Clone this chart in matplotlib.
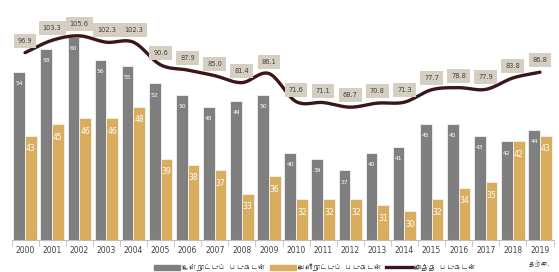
import numpy as np
import matplotlib
matplotlib.use("Agg")
import matplotlib.pyplot as plt
from matplotlib import font_manager
from matplotlib.ft2font import FT2Font
from matplotlib.lines import Line2D
from matplotlib.patches import Patch

years = ["2000", "2001", "2002", "2003", "2004", "2005", "2006", "2007", "2008", "2009",
         "2010", "2011", "2012", "2013", "2014", "2015", "2016", "2017", "2018", "2019"]
domestic = [54, 58, 60, 56, 55, 52, 50, 48, 49, 50, 40, 39, 37, 40, 41, 45, 45, 43, 42, 44]
foreign = [43, 45, 46, 46, 48, 39, 38, 37, 33, 36, 32, 32, 32, 31, 30, 32, 34, 35, 42, 43]
total = [96.9, 103.3, 105.6, 102.3, 102.3, 90.6, 87.9, 85.0, 81.4, 86.1,
         71.6, 71.1, 68.7, 70.8, 71.3, 77.7, 78.8, 77.9, 83.8, 86.8]
legend_labels = ["உள்நாட்டுப் படுகடன்", "வெளிநாட்டுப் படுகடன்", "மொத்த படுகடன்"]
note = "தற்கா."

# find a font with Tamil glyphs
tamil_font = None
for f in font_manager.fontManager.ttflist:
    try:
        ft = FT2Font(f.fname)
        if 0x0B89 in ft.get_charmap():
            tamil_font = f.name
            break
    except Exception:
        pass
fam = [tamil_font, "DejaVu Sans"] if tamil_font else ["DejaVu Sans"]

GRAY = "#7f7f7f"
GOLD = "#d8ad5e"
LINE = "#3b1519"
BOX = "#d5cfc2"

fig = plt.figure(figsize=(5.59, 2.72), dpi=100)
ax = fig.add_axes([11.5 / 559, 1 - 240 / 272, 542 / 559, 232 / 272])
x = np.arange(len(years))
w = 0.43
ax.bar(x - w / 2, domestic, w, bottom=0, color=GRAY, edgecolor="#f2f2f2", linewidth=0.6, zorder=2)
ax.bar(x + w / 2, foreign, w, bottom=0, color=GOLD, edgecolor="#f2f2f2", linewidth=0.6, zorder=2)
ax.set_ylim(25, 65)
ax.set_xlim(-0.5, len(years) - 0.5)
for s in ["top", "right", "left"]:
    ax.spines[s].set_visible(False)
ax.spines["bottom"].set_color("#bfbfbf")
ax.set_yticks([])
ax.set_xticks(x)
ax.set_xticklabels(years, fontsize=5.5, color="#404040")
ax.tick_params(axis="x", length=0, pad=4)
for b in np.arange(-0.5, len(years), 1.0):
    ax.plot([b, b], [0, -0.025], transform=ax.get_xaxis_transform(), color="#bfbfbf", lw=0.6, clip_on=False)

for i, v in enumerate(domestic):
    ax.text(x[i] - w / 2, v - 1.6, str(v), ha="center", va="top", fontsize=4.3, color="white", zorder=3)
for i, v in enumerate(foreign):
    ax.text(x[i] + w / 2, v - 1.5, str(v), ha="center", va="top", fontsize=5.5, color="white", zorder=3)

ax.text(x[-1], -0.085, note, transform=ax.get_xaxis_transform(), ha="center", va="top",
        fontsize=4.5, color="#404040", family=fam)

ax2 = ax.twinx()
ax2.set_ylim(0, 120)
ax2.axis("off")

# smooth line (Catmull-Rom rendering of the data points)
def catmull(xs, ys, n=20):
    px = np.concatenate([[2 * xs[0] - xs[1]], xs, [2 * xs[-1] - xs[-2]]])
    py = np.concatenate([[2 * ys[0] - ys[1]], ys, [2 * ys[-1] - ys[-2]]])
    ox, oy = [], []
    for i in range(1, len(px) - 2):
        t = np.linspace(0, 1, n, endpoint=False)
        for p, o in ((px, ox), (py, oy)):
            p0, p1, p2, p3 = p[i - 1], p[i], p[i + 1], p[i + 2]
            o.extend(0.5 * (2 * p1 + (-p0 + p2) * t + (2 * p0 - 5 * p1 + 4 * p2 - p3) * t ** 2
                            + (-p0 + 3 * p1 - 3 * p2 + p3) * t ** 3))
    ox.append(xs[-1]); oy.append(ys[-1])
    return np.array(ox), np.array(oy)

sx, sy = catmull(x.astype(float), np.array(total))
ax2.plot(sx, sy, color=LINE, lw=2.4, zorder=4, solid_capstyle="round")
for i, v in enumerate(total):
    ax2.annotate(f"{v:.1f}", (x[i], v), xytext=(0, 12), textcoords="offset pixels",
                 ha="center", va="center", fontsize=4.8, color="#404040",
                 bbox=dict(boxstyle="square,pad=0.6", fc=BOX, ec="none"), zorder=5)

handles = [Patch(color=GRAY), Patch(color=GOLD), Line2D([0], [0], color=LINE, lw=2.4)]
leg = fig.legend(handles, legend_labels, loc="center", bbox_to_anchor=(315 / 559, 1 - 267 / 272), ncol=3,
                 frameon=False, handlelength=3.6, handleheight=0.7, columnspacing=0.6,
                 handletextpad=0.3, prop={"family": fam, "size": 5.2})
for t in leg.get_texts():
    t.set_color("#404040")
fig.savefig("out.png", dpi=100)
